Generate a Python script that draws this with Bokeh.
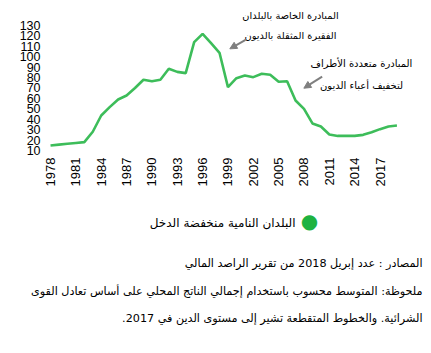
from bokeh.plotting import figure
from bokeh.models import Label, Arrow, NormalHead, FixedTicker, ColumnDataSource
from bokeh.embed import file_html
from bokeh.resources import INLINE
import math

# ---- data ----
years = list(range(1978, 2020))
debt = [14.8, 15.6, 16.4, 17.2, 18.0, 28.0, 43.6, 51.6, 59.0, 62.8,
        70.0, 77.9, 76.5, 77.9, 88.5, 85.5, 84.3, 114.0, 122.0, 113.0,
        103.8, 70.8, 79.4, 82.0, 80.4, 83.6, 82.7, 76.0, 76.5, 58.0,
        50.0, 36.0, 33.0, 25.4, 24.0, 24.0, 24.0, 25.0, 27.5, 30.5,
        33.0, 34.0]
x_ticks = list(range(1978, 2018, 3))
y_ticks = list(range(10, 131, 10))
series_name = "البلدان النامية منخفضة الدخل"
hipc_lines = ["المبادرة الخاصة بالبلدان", "الفقيرة المثقلة بالديون"]
mdri_lines = ["المبادرة متعددة الأطراف", "لتخفيف أعباء الديون"]
notes = [
    "المصادر : عدد إبريل 2018 من تقرير الراصد المالي",
    "ملحوظة: المتوسط محسوب باستخدام إجمالي الناتج المحلي على أساس تعادل القوى",
    "الشرائية. والخطوط المتقطعة تشير إلى مستوى الدين في 2017.\u200f",
]

LINE_COLOR = "#3dbd5a"
DOT_COLOR = "#1eb240"
AR_FONT = "DejaVu Sans"
NUM_FONT = "Liberation Sans"

W, H = 431, 353
p = figure(width=W, height=H, output_backend="svg", toolbar_location=None,
           x_range=(1972.08, 2023.09), y_range=(-184.9, 154.0),
           min_border_left=0, min_border_right=0, min_border_top=0,
           min_border_bottom=0)
p.outline_line_color = None
p.grid.visible = False
p.background_fill_color = "white"
p.border_fill_color = "white"

for ax in (p.xaxis[0], p.yaxis[0]):
    ax.axis_line_color = None
    ax.major_tick_line_color = None
    ax.minor_tick_line_color = None
    ax.major_tick_out = 0
    ax.major_tick_in = 0
    ax.minor_tick_out = 0
    ax.major_label_text_font = NUM_FONT
    ax.major_label_text_color = "#000000"

p.xaxis.fixed_location = 8.08
p.yaxis.fixed_location = 1977.41
p.xaxis.ticker = FixedTicker(ticks=x_ticks)
p.xaxis.major_label_orientation = math.pi / 2
p.xaxis.major_label_text_font_size = "13px"
p.xaxis.major_label_standoff = 5
p.yaxis.ticker = FixedTicker(ticks=y_ticks)
p.yaxis.major_label_text_font_size = "12.5px"
p.yaxis.major_label_standoff = 5

src = ColumnDataSource(dict(x=years, y=debt))
p.line("x", "y", source=src, line_color=LINE_COLOR, line_width=2.6)

# annotations (screen units measured from the bottom-left of the frame = canvas)
for i, t in enumerate(hipc_lines):
    p.add_layout(Label(x=290, y=338 - 20 * i, x_units="screen", y_units="screen",
                       text=t, text_align="center", text_baseline="middle",
                       text_font=AR_FONT, text_font_size="9.8px", text_color="#000000"))
for i, t in enumerate(mdri_lines):
    p.add_layout(Label(x=361, y=289.7 - 21.7 * i, x_units="screen", y_units="screen",
                       text=t, text_align="center", text_baseline="middle",
                       text_font=AR_FONT, text_font_size="10px", text_color="#000000"))

head1 = NormalHead(size=7, fill_color="#7f7f7f", line_color="#7f7f7f")
p.add_layout(Arrow(end=head1, x_start=2001.08, y_start=116.3, x_end=1999.22, y_end=107.6,
                   line_color="#7f7f7f", line_width=2))
head2 = NormalHead(size=7, fill_color="#7f7f7f", line_color="#7f7f7f")
p.add_layout(Arrow(end=head2, x_start=2010.15, y_start=81.0, x_end=2007.98, y_end=69.8,
                   line_color="#7f7f7f", line_width=2))

# legend (RTL: marker on the right)
p.add_layout(Label(x=309, y=133, x_units="screen", y_units="screen", text="●",
                   text_align="center", text_baseline="middle", text_font=AR_FONT,
                   text_font_size="20px", text_color=DOT_COLOR))
p.add_layout(Label(x=295, y=131, x_units="screen", y_units="screen", text=series_name,
                   text_align="right", text_baseline="middle", text_font=AR_FONT,
                   text_font_size="12px", text_color="#000000"))

# notes
for i, t in enumerate(notes):
    p.add_layout(Label(x=422, y=90 - 27.5 * i, x_units="screen", y_units="screen",
                       text=t, text_align="right", text_baseline="middle",
                       text_font=AR_FONT, text_font_size="11.2px", text_color="#000000"))

open("out.html", "w").write(file_html(p, INLINE))
